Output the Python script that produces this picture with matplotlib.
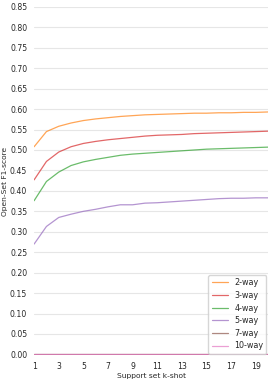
import numpy as np
import matplotlib
matplotlib.use("Agg")
import matplotlib.pyplot as plt
import seaborn as sns

k_shot = list(range(1, 21))

f1_2way = [0.508, 0.545, 0.558, 0.566, 0.572, 0.576, 0.579, 0.582, 0.584, 0.586,
           0.587, 0.588, 0.589, 0.590, 0.590, 0.591, 0.591, 0.592, 0.592, 0.593]
f1_3way = [0.427, 0.472, 0.495, 0.508, 0.516, 0.521, 0.525, 0.528, 0.531, 0.534,
           0.536, 0.537, 0.538, 0.540, 0.541, 0.542, 0.543, 0.544, 0.545, 0.546]
f1_4way = [0.376, 0.423, 0.446, 0.462, 0.471, 0.477, 0.482, 0.487, 0.490, 0.492,
           0.494, 0.496, 0.498, 0.500, 0.502, 0.503, 0.504, 0.505, 0.506, 0.507]
f1_5way = [0.270, 0.313, 0.335, 0.343, 0.350, 0.355, 0.361, 0.366, 0.366, 0.370,
           0.371, 0.373, 0.375, 0.377, 0.379, 0.381, 0.382, 0.382, 0.383, 0.383]
f1_7way = [0.0] * 20
f1_10way = [0.0] * 20

series = [
    ("2-way", f1_2way, "tab:orange"),
    ("3-way", f1_3way, "tab:red"),
    ("4-way", f1_4way, "tab:green"),
    ("5-way", f1_5way, "tab:purple"),
    ("7-way", f1_7way, "tab:brown"),
    ("10-way", f1_10way, "tab:pink"),
]

sns.set_style("whitegrid")
plt.rcParams["font.family"] = ["DejaVu Sans"]

fig, ax = plt.subplots(figsize=(2.73, 3.82), dpi=100)

for nome, valores, cor in series:
    ax.plot(k_shot, valores, color=cor, alpha=0.7, linewidth=0.9, label=nome)

ax.set_xlim(1, 20)
ax.set_ylim(-0.002, 0.85)
ax.set_xticks(range(1, 21, 2))
ax.set_yticks(np.arange(0, 0.851, 0.05))
ax.yaxis.set_major_formatter(matplotlib.ticker.FormatStrFormatter("%.2f"))
ax.tick_params(labelsize=5.6, pad=1.5)
ax.grid(axis="x", visible=False)
ax.grid(axis="y", color="#e6e6e6", linewidth=0.8)
for s in ax.spines.values():
    s.set_visible(False)

ax.set_xlabel("Support set k-shot", fontsize=5.4, labelpad=1)
ax.set_ylabel("Open-Set F1-score", fontsize=5.4)
ax.yaxis.set_label_coords(-0.112, 0.5)
ax.legend(loc="lower right", fontsize=5.8, bbox_to_anchor=(1.0, 0.0),
          handlelength=2.0, borderaxespad=0.2, labelspacing=0.45)

fig.subplots_adjust(left=0.125, right=0.982, top=0.982, bottom=0.07)
fig.savefig("out.png", dpi=100)
